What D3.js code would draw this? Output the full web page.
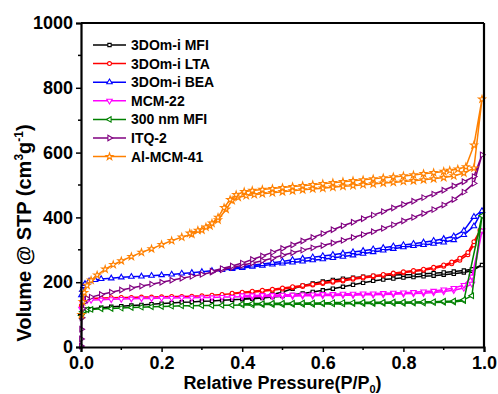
<!DOCTYPE html>
<html>
<head>
<meta charset="utf-8">
<script src="https://d3js.org/d3.v7.min.js"></script>
<style>
  body { margin: 0; background: #fff; }
  text { font-family: "Liberation Sans", Arial, sans-serif; font-weight: bold; }
</style>
</head>
<body>
<script>
// isotherm data, [P/P0, volume]
// each sample has an adsorption branch and a desorption branch
var mfiAds = [[0.001,92],[0.004,106],[0.008,112],[0.015,115],[0.025,117],[0.05,121],[0.075,124],[0.1,126],[0.125,128],[0.15,130],[0.175,132],[0.2,134],[0.225,136],[0.25,138],[0.275,139],[0.3,141],[0.325,142],[0.35,144],[0.375,146],[0.4,147],[0.425,149],[0.45,151],[0.475,154],[0.5,157],[0.525,161],[0.55,165],[0.575,170],[0.6,175],[0.625,180],[0.65,186],[0.675,192],[0.7,198],[0.725,204],[0.75,208],[0.775,211],[0.8,214],[0.825,216],[0.85,218],[0.875,220],[0.9,223],[0.925,226],[0.95,230],[0.97,235],[0.995,253]];
var mfiDes = [[0.97,240],[0.95,236],[0.925,233],[0.9,230],[0.875,228],[0.85,226],[0.825,224],[0.8,223],[0.775,222],[0.75,221],[0.725,219],[0.7,217],[0.675,214],[0.65,211],[0.625,207],[0.6,202],[0.575,196],[0.55,189],[0.525,180],[0.5,170],[0.475,162],[0.45,156],[0.425,152],[0.4,149]];

var ltaAds = [[0.001,128],[0.004,140],[0.008,146],[0.015,149],[0.025,150],[0.05,151],[0.075,152],[0.1,153],[0.125,153],[0.15,154],[0.175,154],[0.2,155],[0.225,156],[0.25,156],[0.275,157],[0.3,158],[0.325,160],[0.35,162],[0.375,164],[0.4,167],[0.425,169],[0.45,172],[0.475,175],[0.5,179],[0.525,183],[0.55,187],[0.575,191],[0.6,196],[0.625,200],[0.65,204],[0.675,209],[0.7,213],[0.725,217],[0.75,221],[0.775,225],[0.8,229],[0.825,233],[0.85,237],[0.875,242],[0.9,249],[0.92,257],[0.94,268],[0.96,285],[0.975,315],[0.99,360]];
var ltaDes = [[0.975,325],[0.96,292],[0.94,274],[0.92,262],[0.9,253],[0.875,246],[0.85,240],[0.825,236],[0.8,232],[0.775,228],[0.75,224],[0.725,220],[0.7,216],[0.675,212],[0.65,207],[0.625,203],[0.6,199],[0.575,194],[0.55,190],[0.525,186],[0.5,182],[0.475,178],[0.45,175],[0.425,172],[0.4,169],[0.375,166]];

var beaAds = [[0.001,160],[0.003,176],[0.006,188],[0.01,195],[0.02,203],[0.035,207],[0.05,210],[0.075,212],[0.1,215],[0.125,217],[0.15,218],[0.175,220],[0.2,222],[0.225,224],[0.25,227],[0.275,229],[0.3,232],[0.325,235],[0.35,238],[0.375,241],[0.4,244],[0.425,248],[0.45,251],[0.475,255],[0.5,258],[0.525,261],[0.55,264],[0.575,268],[0.6,271],[0.625,275],[0.65,279],[0.675,283],[0.7,288],[0.725,293],[0.75,298],[0.775,303],[0.8,308],[0.825,312],[0.85,315],[0.875,319],[0.9,323],[0.925,330],[0.95,346],[0.975,373],[0.995,420]];
var beaDes = [[0.975,402],[0.95,359],[0.925,342],[0.9,334],[0.875,328],[0.85,323],[0.825,319],[0.8,315],[0.775,311],[0.75,306],[0.725,302],[0.7,297],[0.675,293],[0.65,289],[0.625,285],[0.6,281],[0.575,277],[0.55,273],[0.525,269],[0.5,264],[0.475,260],[0.45,256],[0.425,252],[0.4,248],[0.375,244]];

var mcmAds = [[0.001,118],[0.004,135],[0.008,141],[0.015,144],[0.025,145],[0.05,146],[0.075,147],[0.1,148],[0.125,149],[0.15,150],[0.175,150],[0.2,151],[0.225,151],[0.25,152],[0.275,152],[0.3,153],[0.325,153],[0.35,154],[0.375,154],[0.4,155],[0.425,155],[0.45,156],[0.475,156],[0.5,157],[0.525,157],[0.55,158],[0.575,158],[0.6,159],[0.625,159],[0.65,160],[0.675,160],[0.7,161],[0.725,161],[0.75,162],[0.775,163],[0.8,164],[0.825,165],[0.85,166],[0.875,168],[0.9,171],[0.925,175],[0.95,182],[0.97,195],[0.995,359]];
var mcmDes = [[0.97,217],[0.95,191],[0.925,182],[0.9,177],[0.875,173],[0.85,171],[0.825,169],[0.8,168],[0.775,167],[0.75,166],[0.725,165],[0.7,165],[0.675,164],[0.65,164],[0.625,163],[0.6,163],[0.575,162],[0.55,162],[0.525,161],[0.5,161],[0.475,160],[0.45,160],[0.425,159],[0.4,159]];

var nanoAds = [[0.001,98],[0.004,109],[0.008,113],[0.015,115],[0.025,116],[0.05,118],[0.075,119],[0.1,120],[0.125,122],[0.15,123],[0.175,124],[0.2,125],[0.225,126],[0.25,127],[0.275,127],[0.3,128],[0.325,128],[0.35,129],[0.375,129],[0.4,130],[0.425,130],[0.45,131],[0.475,131],[0.5,131],[0.525,132],[0.55,132],[0.575,132],[0.6,133],[0.625,133],[0.65,133],[0.675,134],[0.7,134],[0.725,134],[0.75,135],[0.775,135],[0.8,135],[0.825,136],[0.85,136],[0.875,137],[0.9,138],[0.925,139],[0.95,143],[0.995,405]];
var nanoDes = [[0.97,158],[0.95,146],[0.925,142],[0.9,141],[0.875,140],[0.85,140],[0.825,139],[0.8,139],[0.775,139],[0.75,138],[0.725,138],[0.7,138],[0.675,137],[0.65,137],[0.625,137],[0.6,136],[0.575,136],[0.55,136],[0.525,135],[0.5,135],[0.475,135],[0.45,134],[0.425,134],[0.4,133]];

var itqAds = [[0.0003,3],[0.0006,25],[0.001,55],[0.002,90],[0.004,118],[0.008,138],[0.015,150],[0.025,154],[0.05,162],[0.075,169],[0.1,176],[0.125,182],[0.15,188],[0.175,194],[0.2,200],[0.225,206],[0.25,212],[0.275,218],[0.3,224],[0.325,231],[0.35,238],[0.375,245],[0.4,252],[0.425,259],[0.45,266],[0.475,274],[0.5,283],[0.525,291],[0.55,299],[0.575,306],[0.6,313],[0.625,321],[0.65,329],[0.675,338],[0.7,347],[0.725,356],[0.75,366],[0.775,377],[0.8,389],[0.825,400],[0.85,412],[0.875,424],[0.9,438],[0.925,455],[0.95,478],[0.975,505],[0.995,593]];
var itqDes = [[0.975,526],[0.95,510],[0.925,497],[0.9,484],[0.875,472],[0.85,461],[0.825,450],[0.8,440],[0.775,429],[0.75,418],[0.725,407],[0.7,396],[0.675,385],[0.65,374],[0.625,362],[0.6,350],[0.575,338],[0.55,327],[0.525,315],[0.5,304],[0.475,292],[0.45,281],[0.425,270],[0.4,259],[0.375,250],[0.35,242],[0.325,234]];

var almAds = [[0.001,100],[0.004,140],[0.008,168],[0.015,190],[0.025,206],[0.04,222],[0.06,240],[0.08,254],[0.1,266],[0.125,279],[0.15,292],[0.175,303],[0.2,316],[0.225,328],[0.25,339],[0.275,348],[0.3,361],[0.32,374],[0.34,392],[0.36,425],[0.375,452],[0.39,462],[0.41,467],[0.43,470],[0.45,473],[0.475,476],[0.5,479],[0.525,482],[0.55,485],[0.575,488],[0.6,490],[0.625,493],[0.65,496],[0.675,498],[0.7,501],[0.725,503],[0.75,506],[0.775,508],[0.8,511],[0.825,513],[0.85,516],[0.875,519],[0.9,523],[0.925,528],[0.95,537],[0.975,552],[0.995,765]];
var almDes = [[0.975,623],[0.955,556],[0.935,549],[0.915,545],[0.9,542],[0.875,538],[0.85,535],[0.825,531],[0.8,528],[0.775,525],[0.75,522],[0.725,519],[0.7,516],[0.675,513],[0.65,510],[0.625,507],[0.6,504],[0.575,501],[0.55,498],[0.525,495],[0.5,492],[0.475,489],[0.45,486],[0.425,483],[0.405,479],[0.385,470],[0.37,455],[0.355,430],[0.34,400],[0.325,382],[0.31,370],[0.29,360],[0.27,351]];

var names = ['3DOm-i MFI', '3DOm-i LTA', '3DOm-i BEA', 'MCM-22', '300 nm MFI', 'ITQ-2', 'Al-MCM-41'];
var colors = ['#000000', '#ff0000', '#0000ff', '#ff00ff', '#008000', '#800080', '#ff8000'];
var xTicks = [0, 0.2, 0.4, 0.6, 0.8, 1.0];
var yTicks = [0, 200, 400, 600, 800, 1000];

var series = [
  {ads: mfiAds, des: mfiDes},
  {ads: ltaAds, des: ltaDes},
  {ads: beaAds, des: beaDes},
  {ads: mcmAds, des: mcmDes},
  {ads: nanoAds, des: nanoDes},
  {ads: itqAds, des: itqDes},
  {ads: almAds, des: almDes}
];

// marker shape and rotation for each sample
var shapes = [
  {type: d3.symbolSquare, size: 11, rot: 0},
  {type: d3.symbolCircle, size: 12, rot: 0},
  {type: d3.symbolTriangle, size: 13, rot: 0},
  {type: d3.symbolTriangle, size: 13, rot: 180},
  {type: d3.symbolTriangle, size: 13, rot: -90},
  {type: d3.symbolTriangle, size: 13, rot: 90},
  {type: d3.symbolStar, size: 15, rot: 0}
];

var width = 498,
    height = 394;

var margin = {left: 81, right: 14, top: 23, bottom: 47};

var x = d3.scaleLinear()
  .domain([0, 1])
  .range([margin.left, width - margin.right]);

var y = d3.scaleLinear()
  .domain([0, 1000])
  .range([height - margin.bottom, margin.top]);

var svg = d3.select('body')
  .append('svg')
  .attr('width', width)
  .attr('height', height);

var line = d3.line()
  .x(function(d) { return x(d[0]); })
  .y(function(d) { return y(d[1]); });

// draw each loop: adsorption then desorption
series.forEach(function(s, i) {
  var g = svg.append('g');
  var pts = s.ads.concat(s.des);

  g.append('path')
    .attr('d', line(pts))
    .attr('fill', 'none')
    .attr('stroke', colors[i])
    .attr('stroke-width', 1.5)
    .attr('stroke-linejoin', 'round');

  var sym = d3.symbol().type(shapes[i].type).size(shapes[i].size);
  g.selectAll('path.mark')
    .data(pts)
    .enter().append('path')
    .attr('class', 'mark')
    .attr('d', sym)
    .attr('transform', function(d) {
      return 'translate(' + x(d[0]) + ',' + y(d[1]) + ') rotate(' + shapes[i].rot + ')';
    })
    .attr('fill', '#fff')
    .attr('stroke', colors[i])
    .attr('stroke-width', 1.1);
});

// axes
var xAxis = d3.axisBottom(x)
  .tickValues(xTicks)
  .tickFormat(d3.format('.1f'))
  .tickSize(5)
  .tickPadding(4);

var yAxis = d3.axisLeft(y)
  .tickValues(yTicks)
  .tickFormat(d3.format('d'))
  .tickSize(5)
  .tickPadding(3);

var gx = svg.append('g')
  .attr('transform', 'translate(0,' + y(0) + ')')
  .call(xAxis);

var gy = svg.append('g')
  .attr('transform', 'translate(' + x(0) + ',0)')
  .call(yAxis);

// minor ticks
svg.append('g').selectAll('line')
  .data([0.1, 0.3, 0.5, 0.7, 0.9])
  .enter().append('line')
  .attr('x1', function(d) { return x(d); })
  .attr('x2', function(d) { return x(d); })
  .attr('y1', y(0))
  .attr('y2', y(0) + 3)
  .attr('stroke', '#000')
  .attr('stroke-width', 1.5);

svg.append('g').selectAll('line')
  .data([100, 300, 500, 700, 900])
  .enter().append('line')
  .attr('x1', x(0) - 3)
  .attr('x2', x(0))
  .attr('y1', function(d) { return y(d); })
  .attr('y2', function(d) { return y(d); })
  .attr('stroke', '#000')
  .attr('stroke-width', 1.5);

[gx, gy].forEach(function(g) {
  g.select('.domain').attr('stroke-width', 2.2);
  g.selectAll('.tick line').attr('stroke-width', 1.5);
  g.selectAll('.tick text')
    .attr('font-size', 18)
    .attr('font-family', '"Liberation Sans", Arial, sans-serif')
    .attr('font-weight', 'bold')
    .attr('fill', '#000');
});

// top and right frame lines
svg.append('line')
  .attr('x1', x(0)).attr('x2', x(1))
  .attr('y1', y(1000)).attr('y2', y(1000))
  .attr('stroke', '#000').attr('stroke-width', 2.2);

svg.append('line')
  .attr('x1', x(1)).attr('x2', x(1))
  .attr('y1', y(1000)).attr('y2', y(0))
  .attr('stroke', '#000').attr('stroke-width', 2.2);

// axis titles
var xt = svg.append('text')
  .attr('x', x(0.5))
  .attr('y', 389)
  .attr('text-anchor', 'middle')
  .attr('font-size', 18);

xt.append('tspan').text('Relative Pressure(P/P');
xt.append('tspan').attr('font-size', 11).attr('dy', 4).text('0');
xt.append('tspan').attr('dy', -4).text(')');

var yt = svg.append('text')
  .attr('transform', 'translate(31,233) rotate(-90)')
  .attr('text-anchor', 'middle')
  .attr('font-size', 20);

yt.append('tspan').text('Volume @ STP (cm');
yt.append('tspan').attr('font-size', 12).attr('dy', -8).text('3');
yt.append('tspan').attr('dy', 8).text('g');
yt.append('tspan').attr('font-size', 12).attr('dy', -8).text('-1');
yt.append('tspan').attr('dy', 8).text(')');

// legend
var legend = svg.append('g')
  .selectAll('g')
  .data(names)
  .enter().append('g')
  .attr('transform', function(d, i) { return 'translate(93,' + (45 + i * 18.6) + ')'; });

legend.append('line')
  .attr('x1', 0)
  .attr('x2', 33)
  .attr('stroke', function(d, i) { return colors[i]; })
  .attr('stroke-width', 1.5);

legend.append('path')
  .attr('d', function(d, i) { return d3.symbol().type(shapes[i].type).size(shapes[i].size)(); })
  .attr('transform', function(d, i) { return 'translate(16.5,0) rotate(' + shapes[i].rot + ')'; })
  .attr('fill', '#fff')
  .attr('stroke', function(d, i) { return colors[i]; })
  .attr('stroke-width', 1.1);

legend.append('text')
  .attr('x', 38)
  .attr('dy', '0.36em')
  .attr('font-size', 14)
  .text(function(d) { return d; });
</script>
</body>
</html>
